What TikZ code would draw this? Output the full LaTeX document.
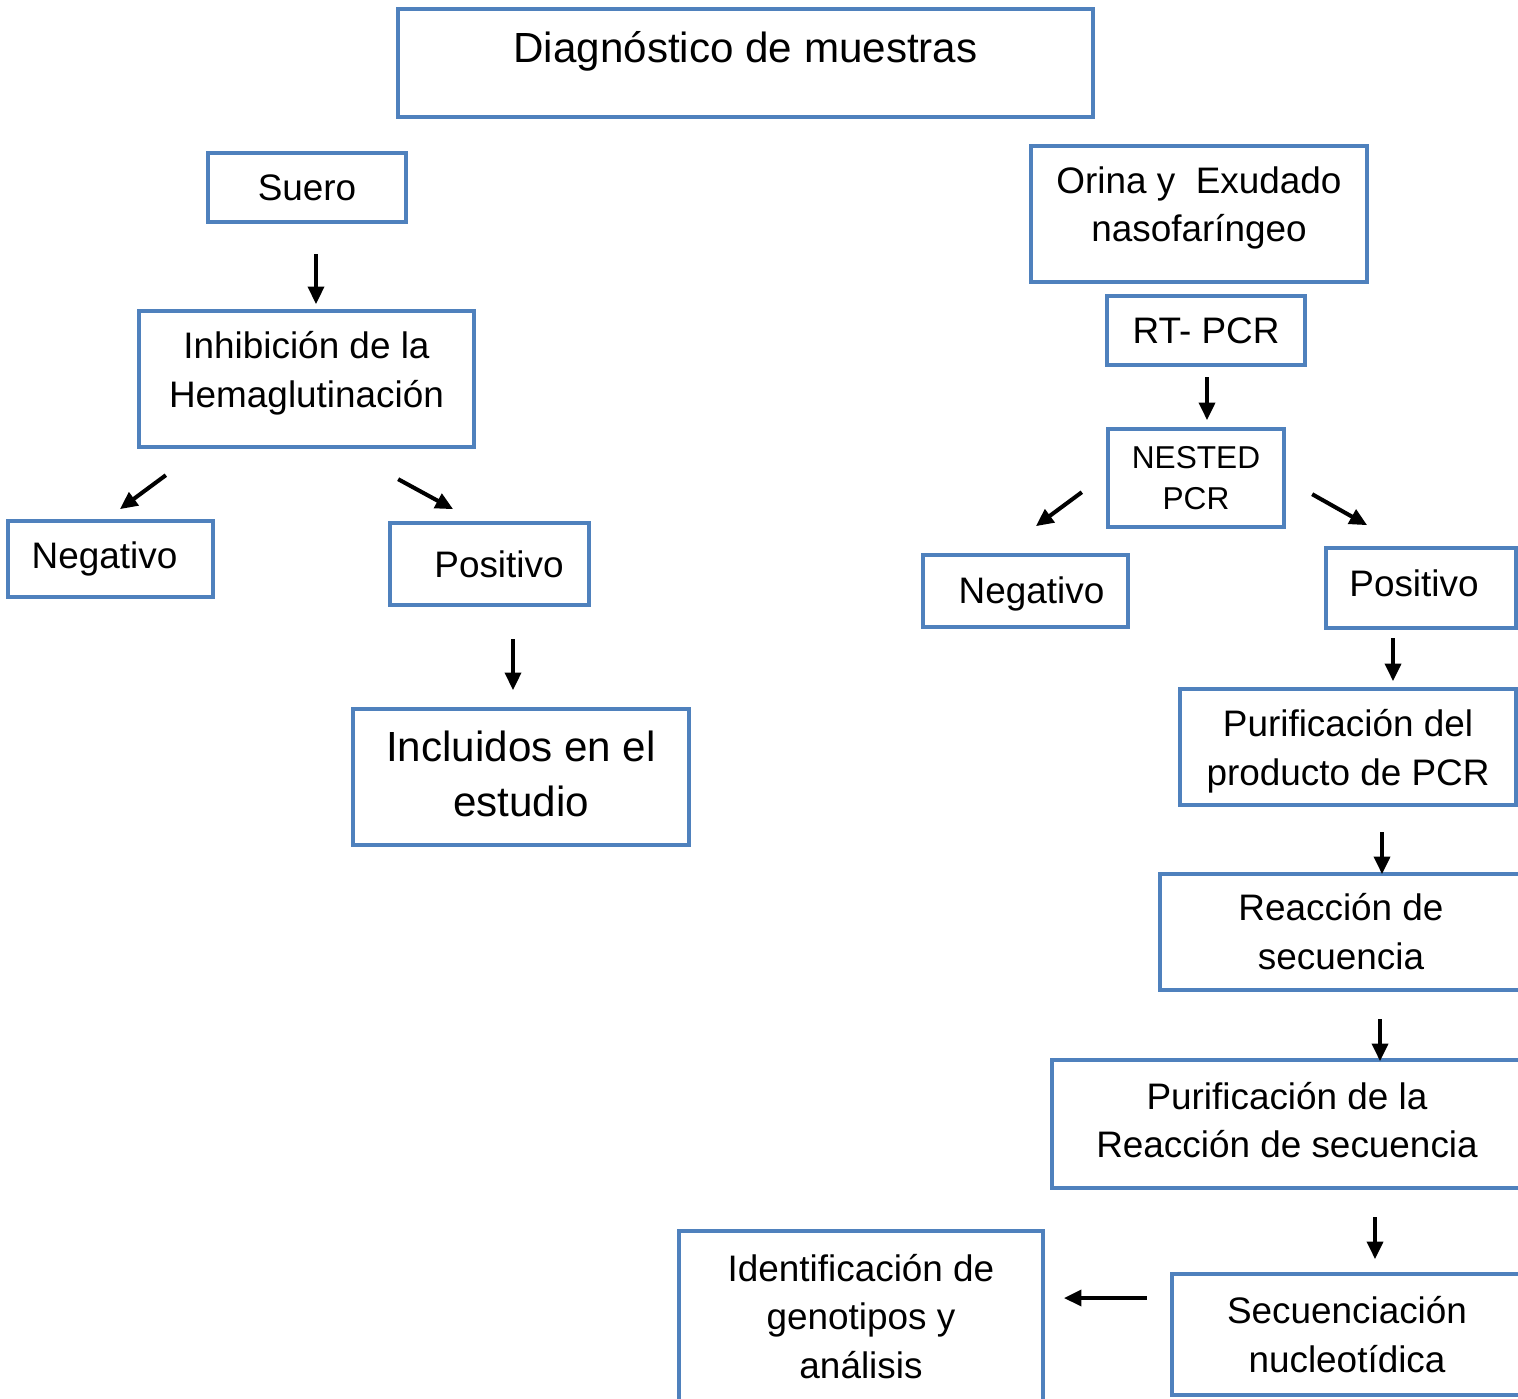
\documentclass[tikz,border=0pt]{standalone}
\usepackage{fontspec}
\setmainfont{Liberation Sans}
\usetikzlibrary{arrows.meta,calc,positioning}
\definecolor{boxblue}{RGB}{79,129,189}
\tikzset{
	caja/.style={draw=boxblue, line width=2.5pt, align=center, inner sep=0pt, font=\fontsize{21}{27.8}\selectfont},
	flecha/.style={line width=2.3pt, -{Triangle[length=10pt,width=9pt]}},
}

\begin{document}
\begin{tikzpicture}[x=0.02cm, y=-0.02cm]
		\useasboundingbox (0,0) rectangle (1518,1399);
		\clip (0,0) rectangle (1518,1399);
		% title
		\node [caja, minimum width=13.9cm, minimum height=2.16cm, text depth=18pt, font=\fontsize{24}{30}\selectfont] (diag) at (745.5,63) {Diagnóstico de muestras};
		% left branch: serum
		\node [caja, minimum width=3.96cm, minimum height=1.38cm] (suero) at (307,187.5) {Suero};
		\node [caja, minimum width=6.7cm, minimum height=2.72cm, text depth=11.2pt] (inhib) at (306.5,379) {Inhibición de la\\Hemaglutinación};
		\node [caja, minimum width=4.1cm, minimum height=1.52cm] (negL) at (110.5,559) {Negativo\hspace{6.8pt}};
		\node [caja, minimum width=3.98cm, minimum height=1.64cm] (posL) at (489.5,564) {\hspace{10.8pt}Positivo};
		\node [caja, minimum width=6.72cm, minimum height=2.72cm, text depth=3.7pt, font=\fontsize{24}{31.8}\selectfont] (incl) at (521,777) {Incluidos en el\\estudio};
		% right branch: urine and swab
		\node [caja, minimum width=6.72cm, minimum height=2.72cm, text depth=11.2pt] (orina) at (1199,214) {Orina y~ Exudado\\nasofaríngeo};
		\node [caja, minimum width=3.96cm, minimum height=1.38cm] (rtpcr) at (1206,330.5) {RT- PCR};
		\node [caja, minimum width=3.52cm, minimum height=1.96cm, font=\fontsize{18}{23.2}\selectfont] (nested) at (1196,478) {NESTED\\PCR};
		\node [caja, minimum width=4.1cm, minimum height=1.44cm, text height=18.4pt] (negR) at (1025.5,591) {\hspace{6.8pt}Negativo};
		\node [caja, minimum width=3.8cm, minimum height=1.6cm, text depth=5.7pt] (posR) at (1421,588) {Positivo\hspace{8pt}};
		\node [caja, minimum width=6.72cm, minimum height=2.32cm, text depth=0pt] (purif) at (1348,747) {Purificación del\\producto de PCR};
		\node [caja, minimum width=7.24cm, minimum height=2.32cm] (reacc) at (1341,932) {Reacción de\\secuencia};
		\node [caja, minimum width=9.4cm, minimum height=2.56cm, text depth=4.7pt] (purifr) at (1287,1124) {Purificación de la\\Reacción de secuencia};
		\node [caja, minimum width=7cm, minimum height=2.42cm] (secu) at (1347,1334.5) {Secuenciación\\nucleotídica};
		\node [caja, minimum width=7.28cm, minimum height=3.42cm] (ident) at (861,1316.5) {Identificación de\\genotipos y\\análisis};
		% arrows
		\draw [flecha] ([shift={(9,30)}]suero.south) -- ++(0,50);
		\draw [flecha] ([shift={(29,26)}]inhib.south west) -- ++(-46,34);
		\draw [flecha] ([shift={(-78,30)}]inhib.south east) -- ++(55,30);
		\draw [flecha] ([shift={(23.5,32)}]posL.south) -- ++(0,51);
		\draw [flecha] ([shift={(1,10)}]rtpcr.south) -- ++(0,43);
		\draw [flecha] ([shift={(-24,-37)}]nested.south west) -- ++(-46,34);
		\draw [flecha] ([shift={(26,-35)}]nested.south east) -- ++(55,31);
		\draw [flecha] ([shift={(-28,8)}]posR.south) -- ++(0,43);
		\draw [flecha] ([shift={(34,25)}]purif.south) -- ++(0,42);
		\draw [flecha] ([shift={(39,27)}]reacc.south) -- ++(0,42);
		\draw [flecha] ([shift={(88,27)}]purifr.south) -- ++(0,42);
		\draw [flecha] ([shift={(-23,-36.5)}]secu.west) -- ++(-83,0);
	\end{tikzpicture}
\end{document}
